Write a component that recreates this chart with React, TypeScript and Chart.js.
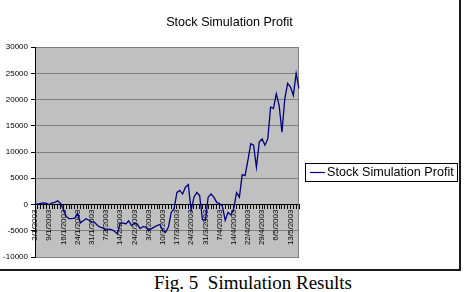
import React, { useEffect, useRef } from 'react';
import { Chart, registerables } from 'chart.js';

Chart.register(...registerables);

// ---- data ----
const dateLabels = [
  '2/1/2003', '9/1/2003', '16/1/2003', '24/1/2003', '31/1/2003', '7/2/2003', '14/2/2003',
  '24/2/2003', '3/3/2003', '10/3/2003', '17/3/2003', '24/3/2003', '31/3/2003', '7/4/2003',
  '14/4/2003', '22/4/2003', '29/4/2003', '6/5/2003', '13/5/2003',
];

const profit = [
  0, 100, 200, 300, 200, 0, 300, 400, 700, 200,
  -900, -2300, -2700, -2700, -2600, -1700, -3500, -3100, -2700, -3000,
  -3300, -3400, -4000, -4300, -4500, -4900, -4700, -4800, -5100, -5600,
  -3600, -3500, -3700, -3100, -4000, -3600, -3700, -4600, -4200, -4300,
  -4900, -4600, -4300, -4000, -3800, -4900, -5300, -4300, -1500, -800,
  2300, 2700, 2000, 3300, 3800, -1100, 1400, 2300, 1700, -2900,
  -3000, 1400, 2000, 1400, 400, 200, -300, -3000, -1500, -2000,
  -800, 2300, 1400, 5700, 5500, 8400, 11600, 11300, 7100, 11900,
  12500, 11300, 12500, 18600, 18300, 21100, 18900, 13800, 20200, 23100,
  22400, 20800, 25000, 22100,
];

const seriesName = 'Stock Simulation Profit';
const chartTitle = 'Stock Simulation Profit';
const captionText = 'Fig. 5  Simulation Results';
const labelEvery = 5;
const yMin = -10000;
const yMax = 30000;
const yStep = 5000;

const categories = profit.map((_, i) =>
  i % labelEvery === 0 ? dateLabels[i / labelEvery] ?? '' : ''
);

const FONT = '"Liberation Sans", Arial, sans-serif';

const plotFrame = {
  id: 'plotFrame',
  beforeDraw(chart: any) {
    const { ctx, chartArea: a } = chart;
    ctx.save();
    ctx.fillStyle = '#c0c0c0';
    ctx.fillRect(a.left, a.top, a.right - a.left, a.bottom - a.top);
    ctx.restore();
  },
  beforeDatasetsDraw(chart: any) {
    const { ctx, chartArea: a } = chart;
    ctx.save();
    ctx.strokeStyle = '#808080';
    ctx.lineWidth = 1;
    ctx.beginPath();
    ctx.moveTo(Math.round(a.right) - 0.5, a.top);
    ctx.lineTo(Math.round(a.right) - 0.5, a.bottom);
    ctx.stroke();
    ctx.restore();
  },
};

const legendBox = {
  id: 'legendBox',
  afterDraw(chart: any) {
    const { ctx, chartArea: a } = chart;
    const x = Math.round(a.right) + 6;
    const y = 163;
    const w = 152;
    const h = 18;
    ctx.save();
    ctx.fillStyle = '#fff';
    ctx.fillRect(x, y, w, h);
    ctx.strokeStyle = '#000';
    ctx.lineWidth = 1;
    ctx.strokeRect(x + 0.5, y + 0.5, w, h);
    ctx.strokeStyle = chart.data.datasets[0].borderColor;
    ctx.lineWidth = 1.2;
    ctx.beginPath();
    ctx.moveTo(x + 5, y + 9.5);
    ctx.lineTo(x + 20, y + 9.5);
    ctx.stroke();
    ctx.fillStyle = '#000';
    ctx.font = `12.6px ${FONT}`;
    ctx.textBaseline = 'middle';
    ctx.textAlign = 'left';
    ctx.fillText(chart.data.datasets[0].label, x + 22, y + 10);
    ctx.restore();
  },
};

function ProfitChart() {
  const ref = useRef<HTMLCanvasElement | null>(null);
  useEffect(() => {
    if (!ref.current) return;
    const chart = new Chart(ref.current, {
      type: 'line',
      data: {
        labels: categories,
        datasets: [
          {
            label: seriesName,
            data: profit,
            borderColor: '#000080',
            borderWidth: 1.3,
            pointRadius: 0,
            tension: 0,
            fill: false,
            xAxisID: 'x',
            yAxisID: 'y',
          },
        ],
      },
      options: {
        responsive: false,
        animation: false,
        events: [],
        layout: { padding: { left: 0, right: 0, top: 0, bottom: 12 } },
        plugins: {
          legend: { display: false },
          tooltip: { enabled: false },
          title: {
            display: true,
            text: chartTitle,
            color: '#000',
            font: { family: FONT, size: 12.6, weight: 'normal' },
            padding: { top: 15, bottom: 17 },
          },
        },
        scales: {
          x: {
            type: 'category',
            position: { y: 0 } as any,
            offset: false,
            grid: {
              drawOnChartArea: false,
              drawTicks: true,
              tickLength: 4,
              tickColor: '#000',
              color: '#000',
            },
            border: { display: true, color: '#000', width: 1 },
            ticks: {
              autoSkip: false,
              maxRotation: 90,
              minRotation: 90,
              padding: 1,
              color: '#000',
              font: { family: FONT, size: 8 },
            },
          },
          y: {
            position: 'left',
            min: yMin,
            max: yMax,
            ticks: {
              stepSize: yStep,
              callback: (v: any) => String(v),
              padding: 3,
              color: '#000',
              font: { family: FONT, size: 8 },
            },
            grid: { color: '#808080', tickColor: '#000', tickLength: 4, lineWidth: 1 },
            border: { color: '#000', width: 1 },
            afterFit: (s: any) => {
              s.width = 35;
            },
          },
          yR: {
            position: 'right',
            display: true,
            min: 0,
            max: 1,
            grid: { display: false, drawTicks: false },
            border: { display: false },
            ticks: { display: false },
            afterFit: (s: any) => {
              s.width = 160;
            },
          },
        },
      } as any,
      plugins: [plotFrame, legendBox],
    });
    return () => chart.destroy();
  }, []);
  return <canvas ref={ref} width={459} height={269} style={{ display: 'block', width: 459, height: 269 }} />;
}

export default function App() {
  return (
    <div
      style={{
        position: 'absolute',
        left: 0,
        top: 0,
        width: 464,
        height: 292,
        overflow: 'hidden',
        background: '#fff',
      }}
    >
      <div
        style={{
          width: 459,
          height: 269,
          borderRight: '2px solid #1a1a1a',
          borderBottom: '2px solid #1a1a1a',
        }}
      >
        <ProfitChart />
      </div>
      <div
        style={{
          position: 'absolute',
          left: 154,
          top: 272,
          whiteSpace: 'pre',
          fontFamily: '"Liberation Serif", "Times New Roman", serif',
          fontSize: 19,
          color: '#000',
        }}
      >
        {captionText}
      </div>
    </div>
  );
}
